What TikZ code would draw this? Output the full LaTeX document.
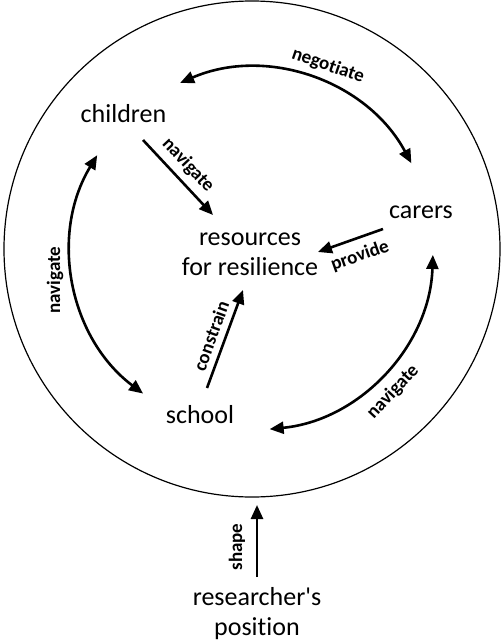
\documentclass[tikz,border=0pt]{standalone}
\usepackage{fontspec}
\setmainfont{Carlito}[Ligatures={TeXOff,NoCommon}]
\usetikzlibrary{arrows.meta}
\begin{document}
\begin{tikzpicture}[x=1pt,y=1pt,
  main/.style={font=\fontsize{26}{30}\selectfont, inner sep=0pt, align=center},
  lbl/.style={font=\fontsize{19}{21}\selectfont\bfseries, inner sep=0pt},
  arr/.style={line width=2.6pt, -{Triangle[length=14pt,width=12pt]}},
  darr/.style={line width=2.6pt, {Triangle[length=14pt,width=12pt]}-{Triangle[length=14pt,width=12pt]}},
  ring/.style={line width=1.2pt}]
\useasboundingbox (0,0) rectangle (502,-643);
\coordinate (O) at (252,-249);
\draw[ring] (O) circle[radius=248];

% nodes
\node[main, anchor=base] (ch) at (123.5,-122) {children};
\node[main, anchor=base] (ca) at (421,-218) {carers};
\node[main] (res) at (250,-254) {resources\\for resilience};
\node[main, anchor=base] (sc) at (200,-423) {school};
\node[main] (rp) at (257,-614) {researcher's\\position};

% arc end points
\coordinate (ng1) at ([shift={(113.4:181)}]O);
\coordinate (nl1) at ([shift={(148.8:181)}]O);
\coordinate (nr1) at ([shift={(-1.9:181)}]O);

% arcs
\draw[darr] (ng1) arc[start angle=113.4, end angle=28.3, radius=181];
\draw[darr] (nl1) arc[start angle=148.8, end angle=233, radius=181];
\draw[darr] (nr1) arc[start angle=-1.9, end angle=-84.4, radius=181];

% straight arrows
\coordinate (a1s) at (143,-140);
\coordinate (a1e) at (213,-215);
\coordinate (a2s) at (383,-229);
\coordinate (a2e) at (318,-252);
\coordinate (a3s) at (207,-388);
\coordinate (a3e) at (243,-290);
\coordinate (a4s) at (257,-577);
\coordinate (a4e) at (257,-505);
\draw[arr] (a1s) -- (a1e);
\draw[arr] (a2s) -- (a2e);
\draw[arr] (a3s) -- (a3e);
\draw[arr] (a4s) -- (a4e);

% labels
\node[lbl, rotate=-19] (lng) at (328,-66) {negotiate};
\node[lbl, rotate=90] (lnl) at (55,-280) {navigate};
\node[lbl, rotate=47] (lnr) at (393,-392) {navigate};
\node[lbl, rotate=-47] (lnc) at (188,-165) {navigate};
\node[lbl, rotate=19.5] (lpr) at (360,-256) {provide};
\node[lbl, rotate=70] (lco) at (211,-336) {constrain};
\node[lbl, rotate=90] (lsh) at (237,-547) {shape};
\end{tikzpicture}
\end{document}
